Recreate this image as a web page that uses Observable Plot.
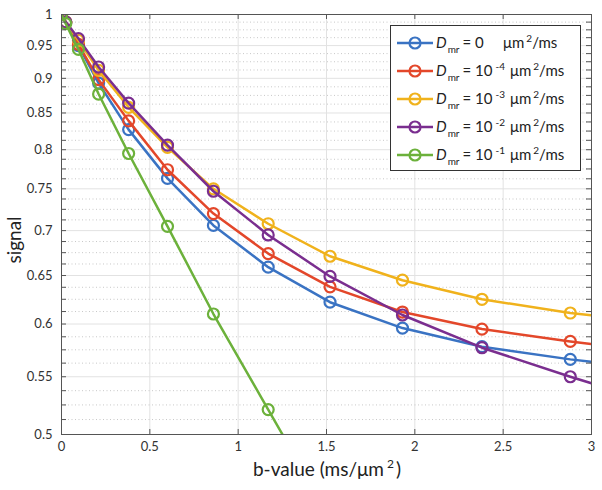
<!DOCTYPE html>
<html><head><meta charset="utf-8">
<script src="https://cdn.jsdelivr.net/npm/d3@7"></script>
<script src="https://cdn.jsdelivr.net/npm/@observablehq/plot@0.6"></script>
<style>
body{margin:0;background:#fff;}
#chart{width:602px;height:490px;}
</style></head><body><div id="chart"></div>
<script>
// b-values (ms/um^2); last entry lies beyond the axis (line continues to edge)
const bValues = [0, 0.024, 0.096, 0.21, 0.38, 0.6, 0.86, 1.17, 1.52, 1.93, 2.38, 2.88, 3.42];
const seriesBase = ["0", "10", "10", "10", "10"];
const seriesExponent = ["", "-4", "-3", "-2", "-1"];
const seriesColors = ["#3a73c3", "#e3472a", "#f0b21c", "#7a2e8f", "#6cb13b"];
const signalD0 = [1, 0.987, 0.950, 0.893, 0.827, 0.763, 0.706, 0.659, 0.622, 0.596, 0.578, 0.566, 0.556];
const signalD4 = [1, 0.987, 0.952, 0.898, 0.839, 0.774, 0.720, 0.674, 0.638, 0.612, 0.595, 0.583, 0.572];
const signalD3 = [1, 0.988, 0.958, 0.912, 0.858, 0.803, 0.750, 0.708, 0.671, 0.645, 0.625, 0.611, 0.601];
const signalD2 = [1, 0.988, 0.961, 0.917, 0.864, 0.806, 0.747, 0.695, 0.649, 0.609, 0.577, 0.550, 0.524];
const signalD1 = [1, 0.985, 0.944, 0.877, 0.795, 0.705, 0.610, 0.521, 0.436, null, null, null, null];
const xTicks = [0, 0.5, 1, 1.5, 2, 2.5, 3];
const yTicks = [0.5, 0.55, 0.6, 0.65, 0.7, 0.75, 0.8, 0.85, 0.9, 0.95, 1];

const allSignals = [signalD0, signalD4, signalD3, signalD2, signalD1];
const series = allSignals.map((arr, i) =>
  bValues.map((b, j) => ({b, signal: arr[j], s: i})).filter(d => d.signal != null));
const yMinor = d3.range(0, 41).map(k => 0.5 + k * 0.0125).filter(v => Math.abs(v * 20 - Math.round(v * 20)) > 1e-6);
const yAll = yTicks.concat(yMinor);

const seriesMarks = [];
series.forEach((data, i) => {
  seriesMarks.push(Plot.line(data, {x: "b", y: "signal", stroke: seriesColors[i], strokeWidth: 2.5, clip: true}));
  seriesMarks.push(Plot.dot(data, {x: "b", y: "signal", stroke: seriesColors[i], r: 5.5, strokeWidth: 2.2, fill: "none", clip: true}));
});

const plot = Plot.plot({
  width: 602, height: 490,
  marginLeft: 61, marginRight: 11, marginTop: 14, marginBottom: 56,
  x: {domain: [0, 3]},
  y: {type: "log", domain: [0.5, 1]},
  style: {fontFamily: "Lato, 'Open Sans', sans-serif", fontSize: "13px", color: "#333", background: "#fff"},
  marks: [
    Plot.ruleX(xTicks, {stroke: "#e2e2e2", strokeWidth: 1}),
    Plot.ruleY(yMinor, {stroke: "#c8c8c8", strokeDasharray: "1,2.5"}),
    Plot.ruleY(yTicks, {stroke: "#e2e2e2"}),
    ...seriesMarks,
    Plot.frame({stroke: "#555", strokeWidth: 1}),
    Plot.ruleY(yAll, {stroke: "#555", insetRight: 525}),
    Plot.ruleY(yAll, {stroke: "#555", insetLeft: 525}),
    Plot.ruleX(xTicks, {stroke: "#555", insetTop: 415}),
    Plot.ruleX(xTicks, {stroke: "#555", insetBottom: 415}),
    Plot.axisX({ticks: xTicks, tickSize: 0, tickPadding: 7, label: null, tickFormat: d => String(d)}),
    Plot.axisY({ticks: yTicks, tickSize: 0, tickPadding: 9, label: null, tickFormat: d => String(d)})
  ]
});
document.getElementById("chart").appendChild(plot);

const svg = d3.select(plot);
const font = "Lato, 'Open Sans', sans-serif";
// axis labels
const xl = svg.append("text").attr("x", 327).attr("y", 476).attr("text-anchor", "middle")
  .attr("font-family", font).attr("font-size", 19).attr("fill", "#222");
xl.append("tspan").text("b-value (ms/\u03bcm");
xl.append("tspan").attr("font-size", 12).attr("dx", 3).attr("dy", -8).text("2");
xl.append("tspan").attr("dy", 8).attr("dx", 2).text(")");
svg.append("text").attr("transform", "translate(21,240) rotate(-90)").attr("text-anchor", "middle")
  .attr("font-family", font).attr("font-size", 19).attr("fill", "#222").text("signal");

// legend
const lg = svg.append("g").attr("text-anchor", "start");
lg.append("rect").attr("x", 390.5).attr("y", 25.5).attr("width", 190).attr("height", 145)
  .attr("fill", "#fff").attr("stroke", "#333").attr("stroke-width", 1);
seriesColors.forEach((c, i) => {
  const y = 43 + i * 28;
  lg.append("line").attr("x1", 397).attr("x2", 433).attr("y1", y).attr("y2", y).attr("stroke", c).attr("stroke-width", 2.5);
  lg.append("circle").attr("cx", 415).attr("cy", y).attr("r", 5.5).attr("fill", "none").attr("stroke", c).attr("stroke-width", 2.2);
  const t = lg.append("text").attr("x", 436).attr("y", y + 5).attr("font-family", font)
    .attr("font-size", 15).attr("fill", "#222").attr("text-anchor", "start");
  t.append("tspan").attr("font-style", "italic").text("D");
  t.append("tspan").attr("font-size", 10).attr("dx", 1).attr("dy", 5).text("mr");
  t.append("tspan").attr("dx", 3).attr("dy", -5).text("= " + seriesBase[i]);
  if (seriesExponent[i]) {
    t.append("tspan").attr("font-size", 10).attr("dx", 3).attr("dy", -6).text(seriesExponent[i]);
    t.append("tspan").attr("dx", 5).attr("dy", 6).text("\u03bcm");
  } else {
    t.append("tspan").attr("x", 503).text("\u03bcm");
  }
  t.append("tspan").attr("font-size", 10).attr("dx", 2).attr("dy", -6).text("2");
  t.append("tspan").attr("dy", 6).text("/ms");
});
</script></body></html>
